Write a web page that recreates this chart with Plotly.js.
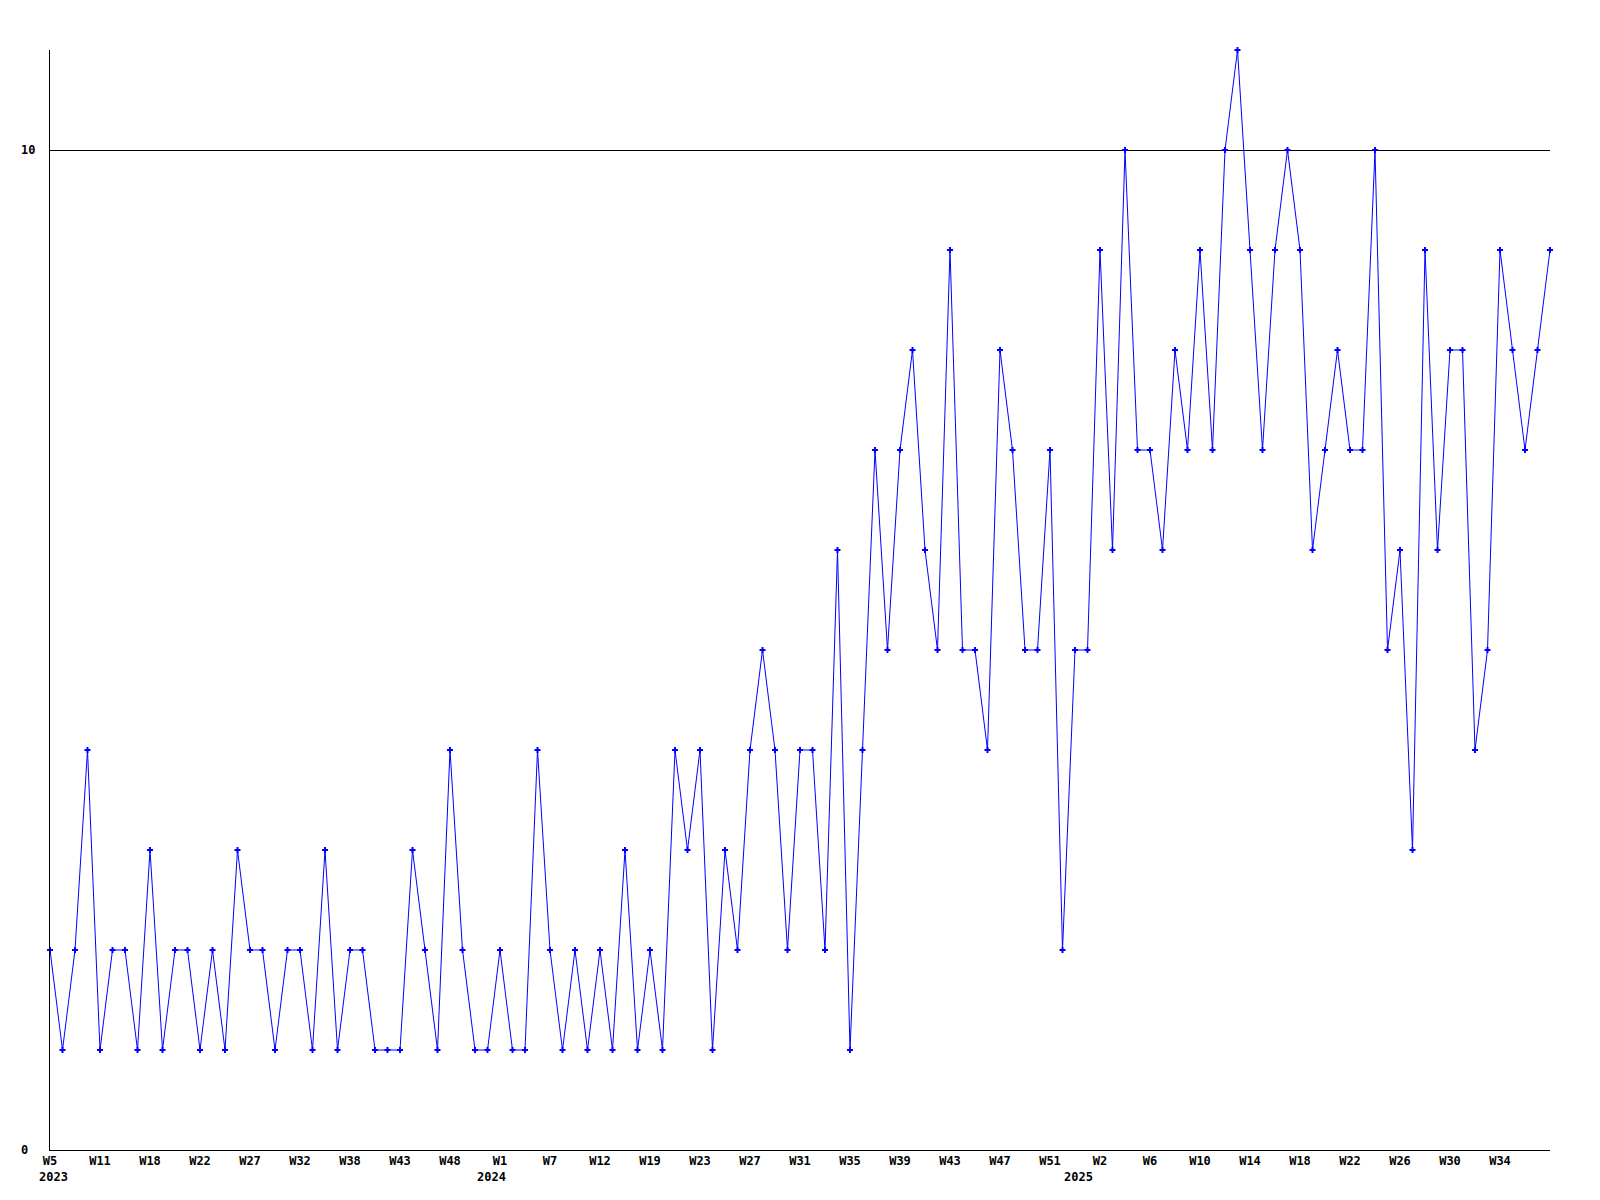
<!DOCTYPE html>
<html>
<head>
<meta charset="utf-8">
<script src="https://cdn.plot.ly/plotly-3.0.1.min.js"></script>
<style>html,body{margin:0;padding:0;background:#fff;}#chart{width:1600px;height:1200px;}</style>
</head>
<body>
<div id="chart"></div>
<script>
// ISO-style year of each point
const years = [
  2023,2023,2023,2023,2023,2023,2023,2023,2023,2023,2023,2023,2023,2023,2023,2023,2023,2023,
  2023,2023,2023,2023,2023,2023,2023,2023,2023,2023,2023,2023,2023,2023,2023,2023,2023,2023,
  2024,2024,2024,2024,2024,2024,2024,2024,2024,2024,2024,2024,2024,2024,2024,2024,2024,2024,
  2024,2024,2024,2024,2024,2024,2024,2024,2024,2024,2024,2024,2024,2024,2024,2024,2024,2024,
  2024,2024,2024,2024,2024,2024,2024,2024,2024,2024,2024,
  2025,2025,2025,2025,2025,2025,2025,2025,2025,2025,2025,2025,2025,2025,2025,2025,2025,2025,
  2025,2025,2025,2025,2025,2025,2025,2025,2025,2025,2025,2025,2025,2025,2025,2025,2025,2025,2025,2025
];
// week number of each point
const weeks = [
  5,7,8,10,11,13,15,16,18,19,20,21,22,23,25,26,27,28,29,31,32,34,35,37,38,39,41,42,43,44,46,47,48,49,51,52,
  1,3,4,6,7,8,10,11,12,14,16,17,19,20,21,22,23,24,25,26,27,28,29,30,31,32,33,34,35,36,37,38,39,40,41,42,43,44,45,46,47,48,49,50,51,52,53,
  1,2,3,4,5,6,7,8,9,10,11,12,13,14,15,16,17,18,19,20,21,22,23,24,25,26,27,28,29,30,31,32,33,34,35,36,37,38
];
// weekly counts
const values = [
  2,1,2,4,1,2,2,1,3,1,2,2,1,2,1,3,2,2,1,2,2,1,3,1,2,2,1,1,1,3,2,1,4,2,1,1,
  2,1,1,4,2,1,2,1,2,1,3,1,2,1,4,3,4,1,3,2,4,5,4,2,4,4,2,6,1,4,7,5,7,8,6,5,9,5,5,4,8,7,5,5,7,2,5,
  5,9,6,10,7,7,6,8,7,9,7,10,11,9,7,9,10,9,6,7,8,7,7,10,5,6,3,9,6,8,8,4,5,9,8,7,8,9
];
const yTickVals = [0, 10];

const categories = years.map((y, i) => y + '-W' + String(weeks[i]).padStart(2, '0'));
const tickIdx = categories.map((c, i) => i).filter(i => i % 4 === 0 && i < categories.length - 1);
const tickvals = tickIdx.map(i => categories[i]);
const ticktext = tickIdx.map(i => 'W' + weeks[i]);

const FONT = 'DejaVu Sans Mono, Liberation Mono, monospace';

const annotations = [];
years.forEach((y, i) => {
  if (i === 0 || years[i - 1] !== y) {
    annotations.push({
      xref: 'x', yref: 'paper', x: categories[i], y: -0.0245,
      xanchor: 'center', yanchor: 'middle', showarrow: false,
      xshift: i === 0 ? 3 : -9,
      text: String(y), font: {family: FONT, size: 12, color: '#000', weight: 'bold'}
    });
  }
});
yTickVals.forEach(v => {
  annotations.push({
    xref: 'paper', yref: 'y', x: -0.0207, y: v,
    xanchor: 'left', yanchor: 'middle', showarrow: false,
    text: String(v), font: {family: FONT, size: 12, color: '#000', weight: 'bold'}
  });
});

const trace = {
  type: 'scatter', mode: 'lines+markers',
  x: categories, y: values,
  line: {color: '#0000ff', width: 1},
  marker: {symbol: 'cross', size: 5, color: '#0000ff'},
  cliponaxis: false,
  hoverinfo: 'x+y'
};

const layout = {
  width: 1600, height: 1200,
  margin: {l: 50, r: 50, t: 50, b: 50},
  paper_bgcolor: '#fff', plot_bgcolor: '#fff',
  showlegend: false,
  xaxis: {
    type: 'category', categoryorder: 'array', categoryarray: categories,
    range: [0, categories.length - 1],
    tickmode: 'array', tickvals: tickvals, ticktext: ticktext,
    showgrid: false, zeroline: false,
    showline: true, linecolor: '#000', linewidth: 1,
    ticks: '', tickangle: 0,
    tickfont: {family: FONT, size: 12, color: '#000', weight: 'bold'}
  },
  yaxis: {
    range: [0, 11],
    tickmode: 'array', tickvals: [10], showticklabels: false,
    showgrid: true, gridcolor: '#000', gridwidth: 1,
    zeroline: false,
    showline: true, linecolor: '#000', linewidth: 1,
    ticks: ''
  },
  annotations: annotations
};

Plotly.newPlot('chart', [trace], layout, {displayModeBar: false, staticPlot: true});
</script>
</body>
</html>
